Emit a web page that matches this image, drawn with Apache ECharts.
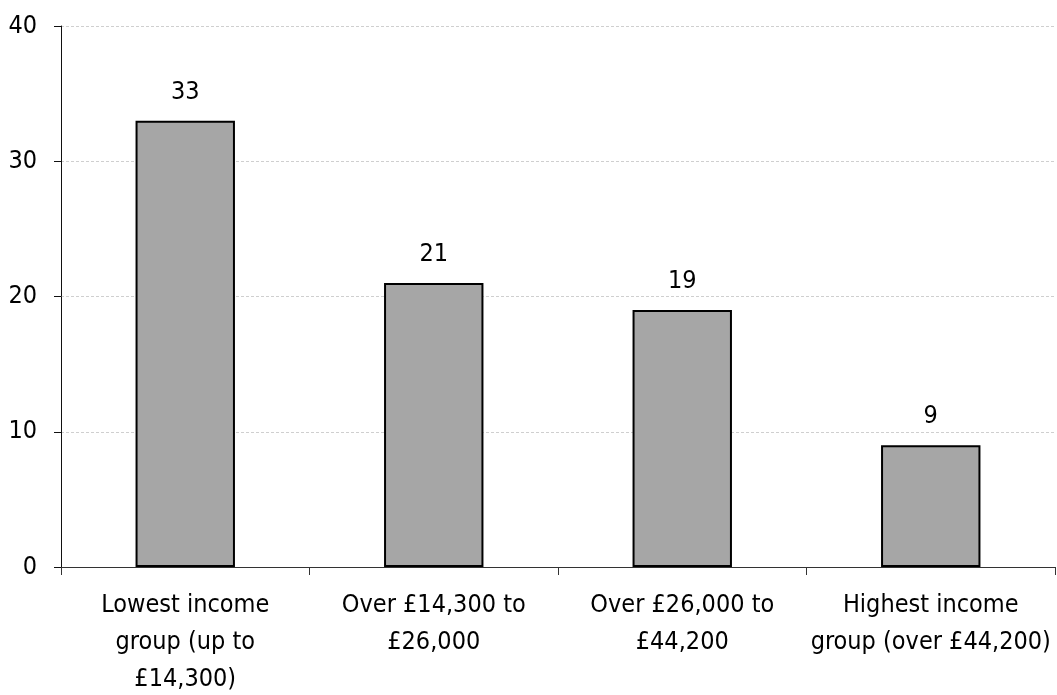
<!DOCTYPE html>
<html>
<head>
<meta charset="utf-8">
<script src="https://cdn.jsdelivr.net/npm/echarts@6/dist/echarts.min.js"></script>
<style>
  html, body { margin: 0; padding: 0; background: #fff; }
  #chart { width: 1057px; height: 695px; }
</style>
</head>
<body>
<div id="chart"></div>
<script>
// Income groups and the share (%) for each group
const categories = [
  'Lowest income\ngroup (up to\n£14,300)',
  'Over £14,300 to\n£26,000',
  'Over £26,000 to\n£44,200',
  'Highest income\ngroup (over £44,200)'
];
const values = [33, 21, 19, 9];
const yTicks = { min: 0, max: 40, interval: 10 };

const FONT = '"Liberation Sans Narrow", "Arial Narrow", "DejaVu Sans Condensed", sans-serif';

const chart = echarts.init(document.getElementById('chart'));
chart.setOption({
  animation: false,
  grid: {
    left: 61, right: 2, top: 26, bottom: 128,
    containLabel: false, outerBoundsMode: 'none'
  },
  xAxis: {
    type: 'category',
    data: categories,
    axisLine: { lineStyle: { color: '#333', width: 1 } },
    axisTick: { show: true, length: 8, lineStyle: { color: '#333' } },
    axisLabel: {
      color: '#000', fontFamily: FONT, fontSize: 25, lineHeight: 37,
      margin: 20, interval: 0
    }
  },
  yAxis: {
    type: 'value',
    min: yTicks.min, max: yTicks.max, interval: yTicks.interval,
    axisLine: { show: true, lineStyle: { color: '#111', width: 1 } },
    axisTick: { show: true, length: 7, lineStyle: { color: '#111' } },
    axisLabel: { color: '#000', fontFamily: FONT, fontSize: 25, margin: 24 },
    splitLine: { show: true, lineStyle: { color: '#cfcfcf', type: [3, 2], width: 1 } }
  },
  series: [{
    type: 'bar',
    data: values,
    barWidth: '40%',
    itemStyle: { color: '#a6a6a6', borderColor: '#000', borderWidth: 2 },
    label: {
      show: true, position: 'top', distance: 16,
      color: '#000', fontFamily: FONT, fontSize: 25
    }
  }]
});
</script>
</body>
</html>
